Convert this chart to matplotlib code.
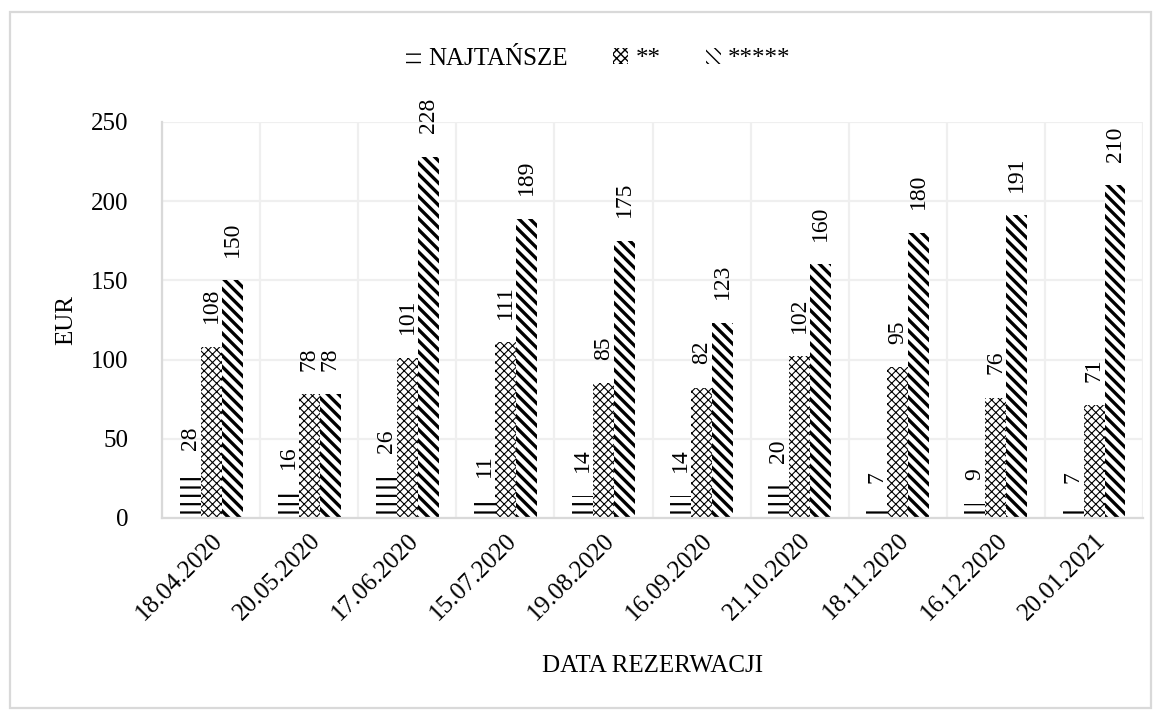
import numpy as np
import matplotlib
matplotlib.use("Agg")
import matplotlib.pyplot as plt
from matplotlib.patches import Rectangle

plt.rcParams['font.family'] = ['Liberation Serif', 'DejaVu Serif']

dates = ['18.04.2020', '20.05.2020', '17.06.2020', '15.07.2020', '19.08.2020',
         '16.09.2020', '21.10.2020', '18.11.2020', '16.12.2020', '20.01.2021']
series_names = ['NAJTAŃSZE', '**', '*****']
najtansze = [28, 16, 26, 11, 14, 14, 20, 7, 9, 7]
two_star = [108, 78, 101, 111, 85, 82, 102, 95, 76, 71]
five_star = [150, 78, 228, 189, 175, 123, 160, 180, 191, 210]

fig = plt.figure(figsize=(11.62, 7.18), dpi=100)
ax = fig.add_axes([0.1394, 0.2786, 0.8443, 0.5516])

x = np.arange(len(dates))
w = 0.214
styles = [('--', 1.6), ('xxxx', 0.8), ('\\\\\\', 2.4)]
values = [najtansze, two_star, five_star]
handles = []
for i, (vals, (hatch, hlw)) in enumerate(zip(values, styles)):
    with plt.rc_context({'hatch.linewidth': hlw}):
        bars = ax.bar(x + (i - 1) * w, vals, w, color='white', edgecolor='black',
                      linewidth=0, hatch=hatch, label=series_names[i], zorder=2)
    handles.append(bars)
    for xi, v in zip(x + (i - 1) * w, vals):
        ax.annotate(str(v), (xi, v), xytext=(0, 17), textcoords='offset points',
                    rotation=90, ha='center', va='bottom', fontsize=17)

ax.set_xlim(-0.5, len(dates) - 0.5)
ax.set_ylim(0, 250)
ax.set_yticks([0, 50, 100, 150, 200, 250])
ax.set_xticks(x)
ax.set_xticklabels(dates, rotation=45, ha='right', rotation_mode='anchor')
ax.set_xticks(np.arange(-0.5, len(dates), 1), minor=True)
ax.tick_params(axis='both', which='both', length=0, labelsize=18)
ax.tick_params(axis='y', pad=24)
ax.tick_params(axis='x', pad=8)
ax.grid(axis='y', color='#efefef', linewidth=1.6, zorder=0)
ax.grid(axis='x', which='minor', color='#efefef', linewidth=1.6, zorder=0)
for s in ['top', 'right']:
    ax.spines[s].set_visible(False)
for s in ['left', 'bottom']:
    ax.spines[s].set_color('#d9d9d9')
    ax.spines[s].set_linewidth(1.6)

ax.set_ylabel('EUR', fontsize=18, labelpad=10)
ax.set_xlabel('DATA REZERWACJI', fontsize=18, labelpad=22)

fig.legend(handles=handles, labels=series_names, loc='center', bbox_to_anchor=(0.515, 0.918),
           ncol=3, frameon=False, fontsize=18, handlelength=0.6, handleheight=0.6,
           handletextpad=0.3, columnspacing=1.8)

fig.patches.append(Rectangle((10 / 1162, 10 / 718), 1141 / 1162, 696 / 718,
                             transform=fig.transFigure, fill=False,
                             edgecolor='#d9d9d9', linewidth=1.6))

fig.savefig('out.png', dpi=100)
